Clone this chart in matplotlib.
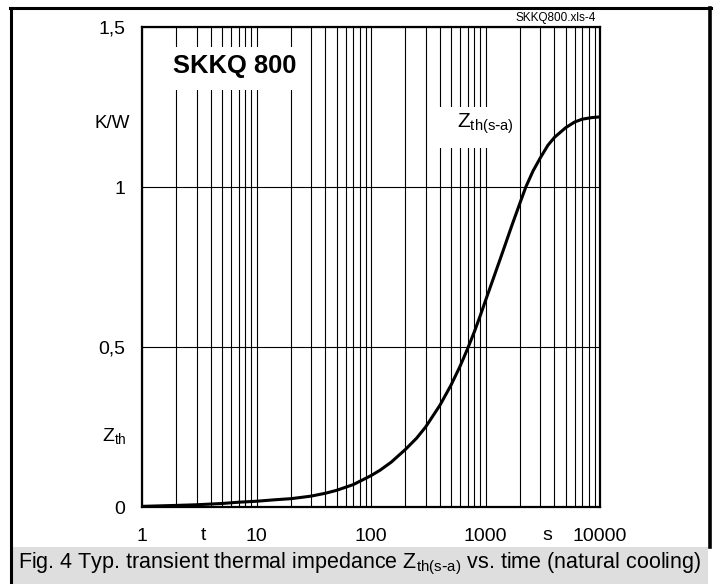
import matplotlib
matplotlib.use("Agg")
import matplotlib.pyplot as plt
from matplotlib.lines import Line2D
from matplotlib.patches import Rectangle
from matplotlib.ticker import FixedLocator, NullFormatter

plt.rcParams['font.family'] = ['Liberation Sans', 'DejaVu Sans']

# curve (t in s, Zth in K/W)
t_s = [1, 2, 3, 5, 7, 10, 15, 20, 30, 40, 50, 70, 100, 120, 150, 200, 250, 300,
       400, 500, 600, 700, 800, 900, 1000, 1200, 1400, 1700, 2000, 2250, 2600,
       3000, 3500, 4000, 5000, 6000, 7000, 8500, 10000]
zth = [0.002, 0.005, 0.007, 0.011, 0.015, 0.018, 0.023, 0.026, 0.034, 0.043, 0.052,
       0.070, 0.098, 0.115, 0.140, 0.180, 0.215, 0.250, 0.318, 0.381, 0.440, 0.496,
       0.548, 0.598, 0.645, 0.725, 0.793, 0.880, 0.950, 1.0, 1.05, 1.09, 1.13,
       1.155, 1.185, 1.203, 1.212, 1.217, 1.219]

x_ticks = [1, 10, 100, 1000, 10000]
x_labels = ['1', '10', '100', '1000', '10000']
y_ticks = [0, 0.5, 1, 1.5]
y_labels = ['0', '0,5', '1', '1,5']

W, H = 717, 584
fig = plt.figure(figsize=(W / 100, H / 100), dpi=100)

def fx(px):
    return px / W

def fy(py):
    return 1 - py / H

ax = fig.add_axes([fx(142), fy(507), fx(600) - fx(142), fy(27) - fy(507)])
ax.set_xscale('log')
ax.set_xlim(1, 10000)
ax.set_ylim(0, 1.5)

minor = [m * 10 ** d for d in range(4) for m in range(2, 10)]
ax.xaxis.set_minor_locator(FixedLocator(minor))
ax.xaxis.set_minor_formatter(NullFormatter())
ax.set_xticks(x_ticks)
ax.set_xticklabels(x_labels)
ax.set_yticks(y_ticks)
ax.set_yticklabels(y_labels)
ax.tick_params(which='both', length=0, labelsize=14)
ax.tick_params(axis='x', pad=15)
ax.tick_params(axis='y', pad=12)

ax.grid(True, which='both', axis='x', color='black', lw=0.8)
ax.grid(True, which='major', axis='y', color='black', lw=0.8)
for s in ax.spines.values():
    s.set_linewidth(1.6)
    s.set_zorder(6)

ax.plot(t_s, zth, color='black', lw=2.2, solid_capstyle='round', zorder=5)

# white boxes behind the labels inside the plot (x, y top, w, h in image pixels)
for bx, by, bw, bh in [(168, 47, 132, 43), (432, 107, 83, 41)]:
    ax.add_patch(Rectangle((fx(bx), fy(by + bh)), bw / W, bh / H, transform=fig.transFigure,
                           fc='white', ec='none', zorder=3))

ax.text(fx(235), fy(66), 'SKKQ 800', transform=fig.transFigure, ha='center', va='center',
        fontsize=18.4, fontweight='bold', zorder=6)
ax.text(fx(457), fy(124), r'Z$_{\mathregular{th(s\text{-}a)}}$', transform=fig.transFigure,
        ha='left', va='center', fontsize=15, zorder=6)

fig.text(fx(130), fy(124), 'K/W', ha='right', va='center', fontsize=13.5)
fig.text(fx(127), fy(437), r'Z$_{\mathregular{th}}$', ha='right', va='center', fontsize=14)
fig.text(fx(203), fy(536), 't', ha='center', va='center', fontsize=14)
fig.text(fx(547), fy(536), 's', ha='center', va='center', fontsize=14)
fig.text(fx(596), fy(18), 'SKKQ800.xls-4', ha='right', va='center', fontsize=8.5)

# frame and caption bar
fig.add_artist(Line2D([fx(10), fx(711)], [fy(7.5), fy(7.5)], color='black', lw=2.2))
fig.add_artist(Line2D([fx(11), fx(11)], [fy(7.5), fy(584)], color='black', lw=2.2))
fig.add_artist(Line2D([fx(710), fx(710)], [fy(7.5), fy(547)], color='black', lw=2.6))
fig.add_artist(Rectangle((fx(13), fy(584)), fx(708) - fx(13), fy(547) - fy(584),
                         transform=fig.transFigure, fc='#dedede', ec='none'))
fig.text(fx(18), fy(564), r'Fig. 4 Typ. transient thermal impedance Z$_{\mathregular{th(s\text{-}a)}}$ vs. time (natural cooling)',
         ha='left', va='center', fontsize=15.5)

fig.savefig('out.png', dpi=100)
